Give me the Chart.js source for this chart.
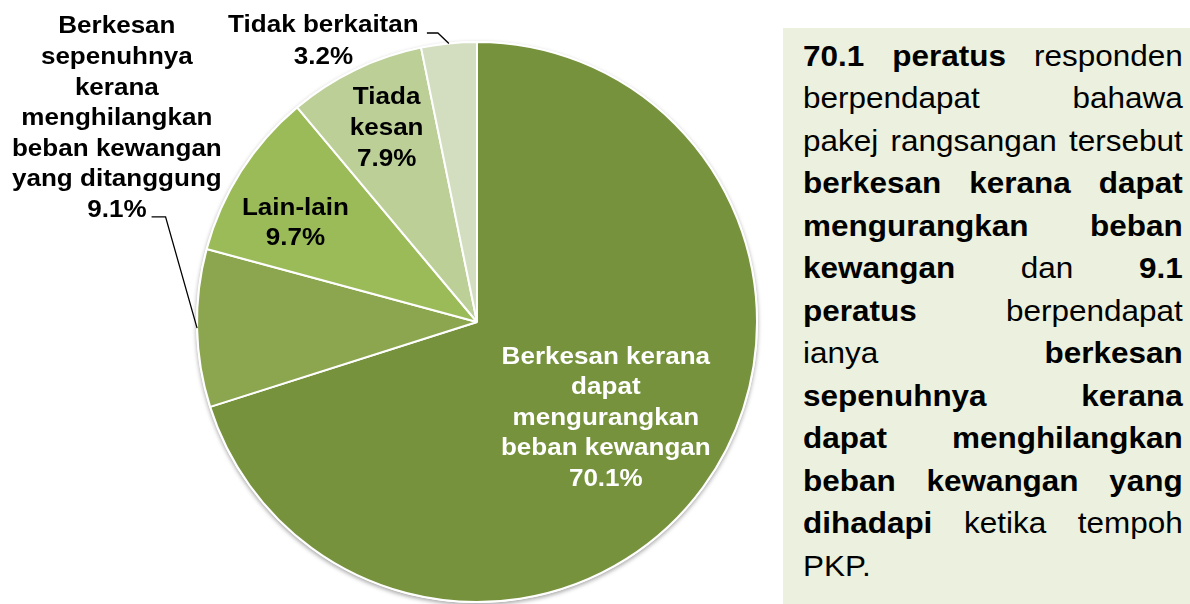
<!DOCTYPE html>
<html>
<head>
<meta charset="utf-8">
<script src="https://cdn.jsdelivr.net/npm/chart.js@4"></script>
<style>
  html, body { margin: 0; padding: 0; background: #fff; }
  body { width: 1190px; height: 604px; position: relative; overflow: hidden; }
  #wrap { position: absolute; left: 0; top: 0; width: 783px; height: 604px; }
  #note { position: absolute; left: 783px; top: 28px; width: 407px; height: 576px; background: #EBF1DE; }
  #note .txt {
    position: absolute; left: 20px; top: 6.7px; width: 350px;
    transform: scaleX(1.085); transform-origin: 0 0;
    font-family: "Liberation Sans", Arial, sans-serif; font-size: 29px; line-height: 42.5px; color: #000;
  }
  #note .j { text-align: justify; text-align-last: justify; white-space: nowrap; }
  #note .l { text-align: left; }
</style>
</head>
<body>
<div id="wrap"><canvas id="myChart"></canvas></div>
<div id="note"><div class="txt">
  <div class="j"><b>70.1 peratus</b> responden</div>
  <div class="j">berpendapat bahawa</div>
  <div class="j">pakej rangsangan tersebut</div>
  <div class="j"><b>berkesan kerana dapat</b></div>
  <div class="j"><b>mengurangkan beban</b></div>
  <div class="j"><b>kewangan</b> dan <b>9.1</b></div>
  <div class="j"><b>peratus</b> berpendapat</div>
  <div class="j">ianya <b>berkesan</b></div>
  <div class="j"><b>sepenuhnya kerana</b></div>
  <div class="j"><b>dapat menghilangkan</b></div>
  <div class="j"><b>beban kewangan yang</b></div>
  <div class="j"><b>dihadapi</b> ketika tempoh</div>
  <div class="l">PKP.</div>
</div></div>
<script>
// categories (one entry per slice, split into label lines)
const categories = [
  ['Berkesan kerana', 'dapat', 'mengurangkan', 'beban kewangan'],
  ['Berkesan', 'sepenuhnya', 'kerana', 'menghilangkan', 'beban kewangan', 'yang ditanggung'],
  ['Lain-lain'],
  ['Tiada', 'kesan'],
  ['Tidak berkaitan'],
];
const values = [70.1, 9.1, 9.7, 7.9, 3.2];
const sliceColors = ['#76923C', '#8CA64F', '#9BBB59', '#BBCF97', '#D3DEC0'];

// where each label sits relative to its slice
const labelStyles = [
  { inside: true, frac: 0.57, shift: [0, 0], color: '#fff', lh: 30.5 },
  { inside: false, elbow: [-31.5, -111.3], tail: 14, text: [-34.7, -100.3], color: '#000', lh: 30.6 },
  { inside: true, frac: 0.74, shift: [-7, 11], color: '#000', lh: 30 },
  { inside: true, frac: 0.768, shift: [3, -2], color: '#000', lh: 31 },
  { inside: false, elbow: [-11, -10.4], tail: 11, text: [-103.5, 6], color: '#000', lh: 32 },
];

const FONT_SIZE = 24;
const STRETCH = 1.085;

function drawBlock(ctx, lines, cx, cy, lh, color) {
  const capH = 0.716 * FONT_SIZE;
  ctx.save();
  ctx.fillStyle = color;
  ctx.font = 'bold ' + FONT_SIZE + 'px "Liberation Sans", Arial, sans-serif';
  ctx.textAlign = 'center';
  ctx.textBaseline = 'alphabetic';
  ctx.translate(cx, cy);
  ctx.scale(STRETCH, 1);
  lines.forEach((line, i) => {
    const y = -(lines.length - 1) / 2 * lh + i * lh + capH / 2;
    ctx.fillText(line, 0, y);
  });
  ctx.restore();
}

const pieShadow = {
  id: 'pieShadow',
  beforeDatasetsDraw(chart) {
    const arc = chart.getDatasetMeta(0).data[0];
    if (!arc) return;
    const ctx = chart.ctx;
    ctx.save();
    ctx.shadowColor = 'rgba(0,0,0,0.35)';
    ctx.shadowBlur = 4;
    ctx.shadowOffsetY = 2;
    ctx.fillStyle = '#fff';
    ctx.beginPath();
    ctx.arc(arc.x, arc.y, arc.outerRadius + 1, 0, Math.PI * 2);
    ctx.fill();
    ctx.restore();
  },
};

const sliceLabels = {
  id: 'sliceLabels',
  afterDatasetsDraw(chart) {
    const ctx = chart.ctx;
    const meta = chart.getDatasetMeta(0);
    meta.data.forEach((arc, i) => {
      const st = labelStyles[i];
      const lines = categories[i].concat([values[i].toFixed(1) + '%']);
      const mid = (arc.startAngle + arc.endAngle) / 2;
      if (st.inside) {
        const r = arc.outerRadius * st.frac;
        const cx = arc.x + Math.cos(mid) * r + st.shift[0];
        const cy = arc.y + Math.sin(mid) * r + st.shift[1];
        drawBlock(ctx, lines, cx, cy, st.lh, st.color);
      } else {
        const ex = arc.x + Math.cos(mid) * arc.outerRadius;
        const ey = arc.y + Math.sin(mid) * arc.outerRadius;
        const bx = ex + st.elbow[0];
        const by = ey + st.elbow[1];
        const tx = bx - st.tail;
        ctx.save();
        ctx.strokeStyle = '#000';
        ctx.lineWidth = 1.3;
        ctx.beginPath();
        ctx.moveTo(ex, ey);
        ctx.lineTo(bx, by);
        ctx.lineTo(tx, by);
        ctx.stroke();
        ctx.restore();
        drawBlock(ctx, lines, tx + st.text[0], by + st.text[1], st.lh, st.color);
      }
    });
  },
};

const config = {
  type: 'pie',
  data: {
    labels: categories.map(c => c.join(' ')),
    datasets: [{
      data: values,
      backgroundColor: sliceColors,
      borderColor: '#fff',
      borderWidth: 2,
    }],
  },
  options: {
    responsive: true,
    maintainAspectRatio: false,
    animation: false,
    layout: { padding: { top: 41, left: 196, right: 25, bottom: 1 } },
    plugins: {
      legend: { display: false },
      tooltip: { enabled: false },
    },
  },
  plugins: [pieShadow, sliceLabels],
};

const myChart = new Chart(document.getElementById('myChart'), config);
</script>
</body>
</html>
